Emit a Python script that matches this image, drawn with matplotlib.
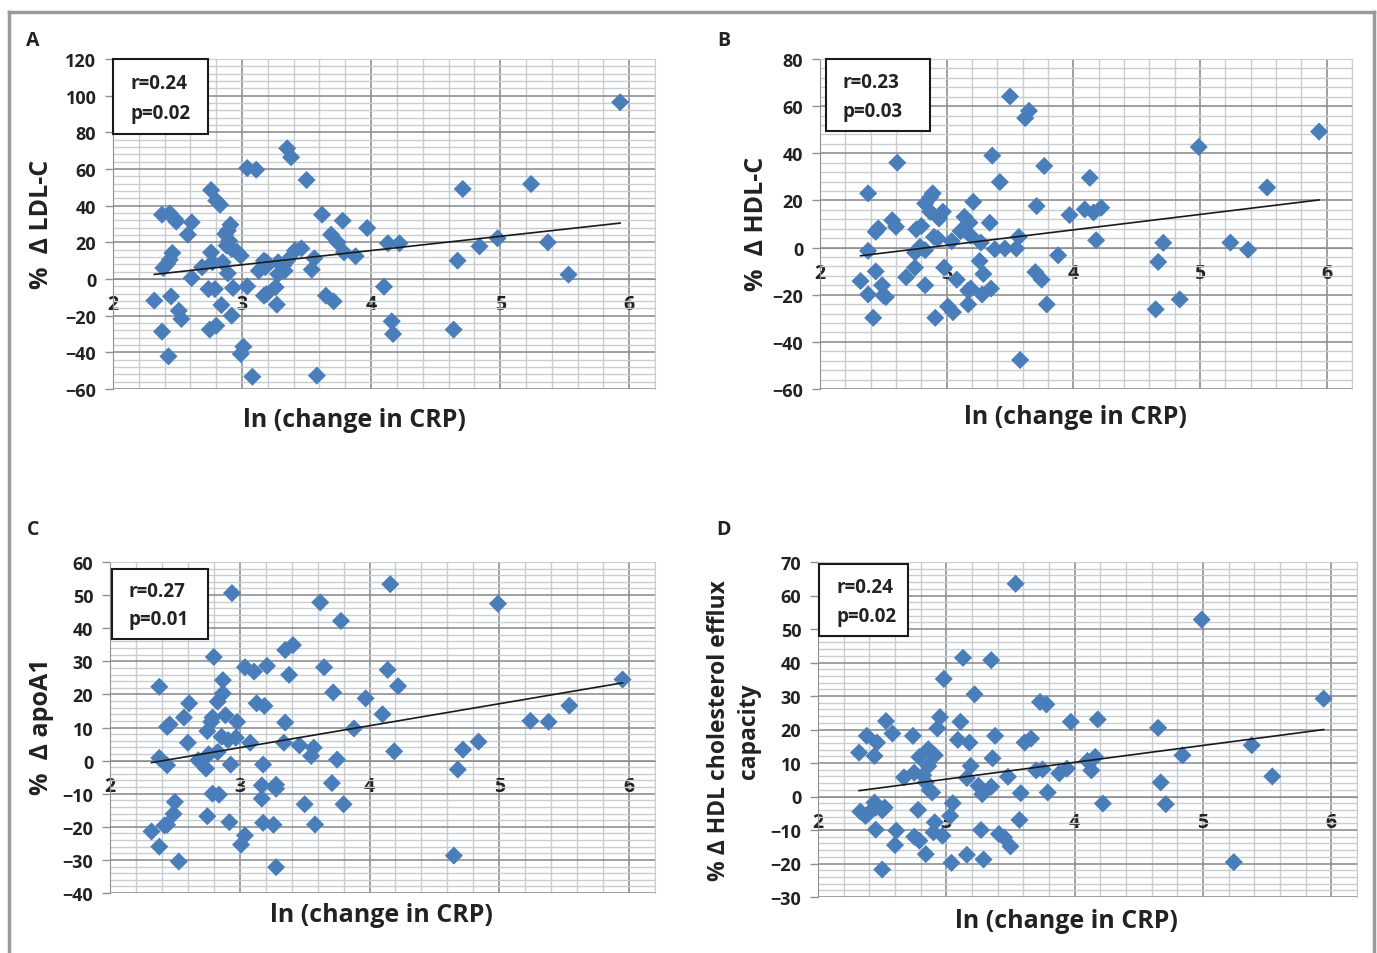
import numpy as np
import matplotlib
matplotlib.use("Agg")
import matplotlib.pyplot as plt
from matplotlib.patches import Rectangle
from matplotlib.ticker import MultipleLocator

FONT = ['Open Sans', 'DejaVu Sans']
plt.rcParams['font.family'] = FONT
plt.rcParams['font.weight'] = 'bold'

# ---- data ----
a_x = [5.93, 3.35, 3.38, 3.04, 3.11, 3.50, 4.71, 5.24, 2.76, 2.80, 2.83, 2.38, 2.44, 2.48, 2.49,
       2.61, 2.58, 3.62, 3.78, 3.97, 2.91, 2.89, 2.87, 2.90, 2.88, 2.92, 2.96, 2.99, 2.76, 2.77,
       2.85, 2.89, 2.69, 2.61, 2.46, 2.44, 2.42, 2.39, 2.32, 2.45, 2.51, 2.53, 2.38, 2.43, 2.74,
       2.79, 2.84, 2.93, 2.92, 2.75, 2.80, 3.04, 3.01, 2.99, 3.08, 3.58, 3.17, 3.19, 3.13, 3.18,
       3.28, 3.32, 3.35, 3.28, 3.33, 3.41, 3.46, 3.56, 3.54, 3.17, 3.19, 3.26, 3.27, 3.65, 3.71,
       3.69, 3.74, 3.79, 3.88, 4.13, 4.22, 4.10, 4.16, 4.17, 4.67, 4.64, 4.84, 4.98, 5.37, 5.53]
a_y = [96.4, 71.3, 66.4, 60.5, 59.6, 54.0, 49.1, 51.8, 48.5, 42.7, 40.5, 35.1, 35.8, 32.7, 31.3,
       30.9, 24.2, 35.1, 31.8, 27.8, 29.6, 26.4, 24.5, 20.9, 18.2, 16.4, 14.9, 12.7, 14.5, 9.1,
       9.1, 3.1, 6.4, 0.5, 14.2, 10.5, 8.2, 6.0, -11.8, -9.5, -17.3, -21.8, -28.7, -42.2, -5.5,
       -5.5, -14.2, -4.9, -20.0, -27.6, -25.5, -4.0, -36.9, -40.9, -53.3, -52.7, 10.0, 9.1, 4.5, 6.4,
       9.1, 7.3, 10.0, 2.7, 4.5, 15.5, 16.7, 11.3, 5.1, -9.1, -8.2, -4.5, -14.0, -9.1, -12.2,
       24.2, 20.0, 14.5, 12.4, 19.5, 19.5, -4.2, -23.1, -30.0, 10.0, -27.6, 17.8, 22.2, 20.0, 2.4]

b_x = [3.50, 3.65, 3.62, 5.94, 4.99, 3.36, 2.61, 3.77, 4.13, 3.42, 5.53, 2.38, 2.89, 2.87, 2.83,
       3.21, 3.71, 4.09, 4.22, 4.16, 2.87, 2.97, 2.94, 3.14, 3.18, 3.97, 2.57, 2.60, 2.44, 2.46,
       2.76, 2.80, 3.34, 3.11, 2.90, 2.93, 3.04, 3.19, 3.27, 3.57, 4.18, 2.79, 2.83, 2.75, 2.38,
       3.38, 3.46, 3.55, 4.71, 5.24, 5.38, 3.88, 3.26, 2.75, 2.98, 2.44, 2.68, 2.32, 3.08, 3.29,
       3.70, 3.75, 4.67, 2.49, 2.83, 2.50, 2.52, 2.38, 3.17, 3.19, 3.28, 3.35, 3.17, 3.01, 3.05,
       2.42, 2.91, 3.79, 4.65, 4.84, 3.58]
b_y = [64.1, 58.0, 54.9, 49.2, 42.7, 39.0, 36.0, 34.6, 29.6, 27.8, 25.5, 23.0, 23.0, 21.3, 18.7,
       19.4, 17.6, 16.2, 16.9, 14.9, 15.2, 15.2, 12.3, 13.0, 10.6, 13.8, 11.6, 8.8, 6.7, 8.1,
       7.7, 9.1, 10.5, 7.0, 4.5, 3.8, 2.7, 5.0, 2.1, 4.5, 3.1, 0.3, -1.1, -2.1, -1.4,
       -0.7, -0.4, -0.4, 2.0, 2.1, -0.9, -3.3, -5.7, -8.5, -8.5, -10.1, -12.6, -14.2, -13.6, -11.2,
       -10.4, -13.6, -6.1, -16.0, -16.0, -20.3, -21.0, -19.9, -18.2, -17.4, -19.9, -17.4, -24.1, -25.0, -27.4,
       -29.8, -29.8, -24.1, -26.2, -22.0, -47.7]

c_x = [4.16, 2.94, 3.62, 4.99, 3.78, 3.41, 3.35, 2.80, 3.04, 3.11, 3.21, 3.65, 4.14, 3.38, 2.87,
       5.95, 2.38, 4.22, 2.87, 2.83, 3.72, 3.97, 2.61, 3.13, 3.19, 5.54, 2.57, 2.79, 2.89, 2.78,
       4.10, 2.44, 2.46, 2.98, 3.35, 5.24, 5.38, 3.88, 2.75, 2.86, 2.91, 2.97, 2.60, 3.08, 3.34,
       3.46, 3.57, 3.55, 4.84, 4.72, 4.19, 2.38, 2.76, 2.83, 2.68, 2.44, 2.74, 2.93, 3.18, 3.75,
       4.68, 3.17, 3.28, 3.28, 3.71, 2.79, 2.84, 3.17, 2.50, 2.49, 2.75, 3.50, 3.80, 2.42, 2.44,
       2.92, 3.18, 3.26, 3.58, 2.32, 3.04, 3.01, 2.38, 2.53, 3.28, 4.65]
c_y = [53.3, 50.6, 47.8, 47.4, 42.2, 34.9, 33.4, 31.3, 28.2, 26.9, 28.6, 28.2, 27.4, 25.9, 24.3,
       24.5, 22.3, 22.5, 20.3, 17.8, 20.6, 18.8, 17.3, 17.3, 16.5, 16.6, 13.0, 13.0, 13.7, 11.7,
       14.0, 10.2, 10.9, 11.7, 11.5, 12.0, 11.7, 9.7, 8.9, 7.2, 6.2, 6.9, 5.4, 5.4, 5.4,
       4.6, 3.9, 1.4, 5.7, 3.3, 2.8, 0.8, 1.9, 2.6, 0.1, -1.4, -2.4, -1.2, -1.2, 0.3,
       -2.7, -7.5, -7.3, -8.5, -6.8, -10.0, -10.3, -11.5, -12.5, -16.1, -16.8, -13.2, -13.2, -19.6, -19.4,
       -18.6, -18.8, -19.4, -19.3, -21.4, -22.6, -25.4, -26.0, -30.5, -32.2, -28.7]

d_x = [3.54, 4.99, 3.13, 3.35, 2.98, 3.22, 3.73, 3.78, 5.94, 2.53, 2.95, 3.11, 3.97, 4.18, 2.38,
       2.58, 2.74, 2.93, 3.38, 4.65, 2.46, 3.09, 3.18, 3.61, 3.66, 2.32, 2.44, 2.86, 2.79, 2.91,
       3.36, 5.38, 4.84, 4.10, 4.16, 2.86, 3.19, 2.67, 2.75, 2.82, 2.84, 2.87, 2.89, 3.16, 3.25,
       3.28, 3.35, 3.48, 3.58, 3.70, 3.75, 3.88, 3.94, 4.13, 3.79, 4.67, 5.54, 4.22, 4.71, 3.05,
       3.03, 2.91, 3.57, 2.33, 2.37, 2.40, 2.44, 2.45, 2.50, 2.52, 2.78, 2.45, 2.61, 2.90, 2.97,
       2.75, 2.79, 2.60, 2.84, 3.27, 3.41, 3.45, 3.50, 3.16, 3.29, 3.04, 2.50, 5.24]
d_y = [63.5, 52.8, 41.4, 40.7, 35.1, 30.5, 28.2, 27.5, 29.2, 22.5, 23.7, 22.3, 22.3, 23.0, 18.1,
       18.8, 18.1, 20.3, 18.1, 20.5, 16.1, 16.9, 16.1, 16.1, 17.3, 13.1, 12.1, 14.1, 11.8, 12.3,
       11.4, 15.3, 12.3, 10.6, 11.8, 9.1, 9.1, 5.7, 7.1, 6.3, 4.2, 1.9, 1.2, 5.5, 3.2,
       0.7, 2.9, 5.9, 1.0, 7.8, 8.1, 6.9, 8.3, 7.8, 1.2, 4.2, 6.0, -2.1, -2.3, -2.0,
       -5.8, -7.7, -7.0, -4.5, -5.8, -4.8, -1.8, -3.3, -4.1, -3.3, -4.0, -9.9, -10.2, -10.7, -11.7,
       -12.0, -13.2, -14.5, -17.2, -10.0, -11.2, -12.2, -14.9, -17.4, -18.8, -19.8, -21.8, -19.6]

letters = ['A', 'B', 'C', 'D']
ylabels = ['%  Δ LDL-C', '%  Δ HDL-C', '%  Δ apoA1', '% Δ HDL cholesterol efflux\ncapacity']
ylabel_sizes = [18, 18, 18, 16.5]
xlabel = 'ln (change in CRP)'
r_text = ['r=0.24', 'r=0.23', 'r=0.27', 'r=0.24']
p_text = ['p=0.02', 'p=0.03', 'p=0.01', 'p=0.02']
ylims = [(-60, 120), (-60, 80), (-40, 60), (-30, 70)]
ysteps = [20, 20, 10, 10]

W, H = 1377, 954
fig = plt.figure(figsize=(W / 100, H / 100), dpi=100)

def fx(px):
    return px / W

def fy(py):
    return 1 - py / H

# axes boxes in pixels: left, top, right, bottom
boxes = [(113, 60, 655, 390), (820, 60, 1352, 390), (110, 563, 655, 894), (818, 563, 1357, 898)]
# r/p box in pixels: left, top, right, bottom
rp_boxes = [(113, 60, 208, 135), (826, 60, 930, 132), (112, 570, 208, 640), (819, 565, 908, 637)]
letter_pos = [(33, 41), (724, 41), (33, 530), (724, 530)]
ylab_pos = [(42, 224), (756, 224), (42, 727), (734, 731)]
xlab_pos = [(354, 421), (1075, 418), (381, 916), (1066, 922)]

data = [(a_x, a_y), (b_x, b_y), (c_x, c_y), (d_x, d_y)]

for i in range(4):
    l, t, r, b = boxes[i]
    ax = fig.add_axes([fx(l), fy(b), fx(r) - fx(l), fy(t) - fy(b)])
    xs, ys = np.array(data[i][0]), np.array(data[i][1])

    ax.set_xlim(2, 6.2)
    ax.set_ylim(*ylims[i])
    ax.xaxis.set_major_locator(MultipleLocator(1))
    ax.xaxis.set_minor_locator(MultipleLocator(0.2))
    ax.yaxis.set_major_locator(MultipleLocator(ysteps[i]))
    ax.yaxis.set_minor_locator(MultipleLocator(ysteps[i] / 5))
    ax.grid(which='minor', color='#c9ccd0', lw=1.0, zorder=0)
    ax.grid(which='major', color='#8e9093', lw=1.2, zorder=0)
    ax.set_axisbelow(True)

    for s in ['top', 'right']:
        ax.spines[s].set_color('#c9ccd0')
    ax.spines['left'].set_color('#8e9093')
    ax.spines['bottom'].set_position(('data', 0))
    ax.spines['bottom'].set_color('#8e9093')

    ax.tick_params(axis='x', which='both', length=0, pad=11, labelsize=14)
    ax.tick_params(axis='y', which='major', length=6, width=1, color='#8e9093', pad=6, labelsize=13)
    ax.tick_params(axis='y', which='minor', length=0)
    ax.set_xticks([2, 3, 4, 5, 6])
    ax.set_xticklabels(['2', '3', '4', '5', '6'], fontweight='bold', color='#222222')
    for lab in ax.get_yticklabels():
        lab.set_fontweight('bold')
        lab.set_color('#222222')

    ax.scatter(xs, ys, marker='D', s=85, color='#4a7ebb', edgecolors='none', zorder=3)

    k, c0 = np.polyfit(xs, ys, 1)
    lx = np.array([xs.min(), xs.max()])
    ax.plot(lx, k * lx + c0, color='#1a1a1a', lw=1.2, zorder=4)

    bl, bt, br, bb = rp_boxes[i]
    fig.patches.append(Rectangle((fx(bl), fy(bb)), fx(br) - fx(bl), fy(bt) - fy(bb),
                                 transform=fig.transFigure, facecolor='white',
                                 edgecolor='#1a1a1a', lw=1.5, zorder=5))
    cx = bl + 17
    fig.text(fx(cx), fy(bt + (bb - bt) * 0.32), r_text[i], fontsize=13.5, fontweight='bold',
             va='center', ha='left', zorder=6, color='#222222')
    fig.text(fx(cx), fy(bt + (bb - bt) * 0.72), p_text[i], fontsize=13.5, fontweight='bold',
             va='center', ha='left', zorder=6, color='#222222')

    fig.text(fx(letter_pos[i][0]), fy(letter_pos[i][1]), letters[i], fontsize=14,
             fontweight='bold', ha='center', va='center', color='#222222')
    fig.text(fx(ylab_pos[i][0]), fy(ylab_pos[i][1]), ylabels[i], fontsize=ylabel_sizes[i],
             fontweight='bold', ha='center', va='center', rotation=90, linespacing=1.3,
             color='#222222')
    fig.text(fx(xlab_pos[i][0]), fy(xlab_pos[i][1]), xlabel, fontsize=18,
             fontweight='bold', ha='center', va='center', color='#222222')

# grey frame around the figure
frame_col = '#9a9a9a'
fig.add_artist(plt.Line2D([fx(9), fx(9)], [0, fy(13)], transform=fig.transFigure, color=frame_col, lw=2.5))
fig.add_artist(plt.Line2D([fx(9), fx(1374)], [fy(13), fy(13)], transform=fig.transFigure, color=frame_col, lw=2.5))
fig.add_artist(plt.Line2D([fx(1374), fx(1374)], [fy(13), 0], transform=fig.transFigure, color=frame_col, lw=2.5))

fig.savefig('out.png', dpi=100)
